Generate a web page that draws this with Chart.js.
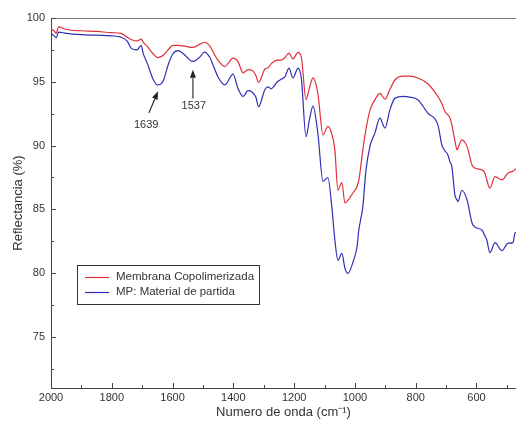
<!DOCTYPE html>
<html>
<head>
<meta charset="utf-8">
<script src="https://cdn.jsdelivr.net/npm/chart.js@4/dist/chart.umd.min.js"></script>
<style>
html,body{margin:0;padding:0;background:#fff;}
#c{display:block;}
</style>
</head>
<body>
<canvas id="c" width="516" height="421"></canvas>
<script>
// ---- Data ----
const wavenumbers = [2000,1990,1983,1975,1950,1900,1850,1800,1770,1750,1735,1717,1703,1697,1684,1664,1650,1640,1630,1615,1599,1582,1560,1540,1533,1510,1495,1477,1468,1451,1428,1401,1385,1368,1352,1339,1326,1317,1296,1286,1276,1255,1243,1230,1217,1204,1187,1176,1161,1150,1138,1122,1105,1089,1076,1066,1056,1043,1033,1023,1006,993,987,974,964,950,934,918,901,885,868,842,820,793,760,727,714,704,694,687,681,671,664,661,648,631,612,582,572,566,556,539,516,497,480,474,470];

const membranaCopolimerizada = [99.15,99.0,98.8,99.3,99.1,99.0,98.95,98.85,98.8,98.5,98.3,98.2,98.35,98.1,97.8,97.2,96.9,96.95,97.1,97.5,97.85,97.85,97.8,97.7,97.7,97.95,98.1,97.8,97.4,96.7,96.2,96.86,96.6,95.7,95.95,95.9,95.5,94.95,96.0,96.1,96.4,96.7,96.7,96.9,97.25,96.8,97.3,96.9,93.6,94.5,95.3,94.1,90.84,91.5,90.9,89.66,86.5,87.1,85.5,85.7,86.3,86.8,87.3,89.66,91.23,92.8,93.6,94.1,93.64,94.4,95.16,95.45,95.45,95.3,94.85,93.85,93.3,92.67,92.4,92.15,91.6,90.4,89.66,89.8,90.45,89.92,88.35,88.1,87.83,87.3,86.66,87.57,87.31,87.83,88.0,88.1,88.2];

const materialDePartida = [98.8,98.6,98.45,98.9,98.8,98.7,98.65,98.6,98.5,98.2,97.6,97.5,97.85,97.25,96.5,95.2,94.75,94.8,95.1,96.3,97.2,97.45,97.1,96.65,96.6,96.95,97.33,96.9,96.4,95.4,94.76,95.6,94.5,93.85,94.3,94.2,93.8,93.06,94.4,94.6,94.45,95.0,95.2,95.4,96.07,95.3,96.07,95.2,90.7,92.0,93.1,90.97,87.2,87.5,85.2,82.6,81.0,81.55,80.4,79.98,80.9,82.07,83.4,85.2,88.0,90.0,91.0,92.15,91.37,92.8,93.72,93.85,93.8,93.59,92.54,91.62,90.05,89.6,89.27,88.7,88.35,86.13,85.75,85.6,86.5,85.74,83.78,83.38,82.9,82.6,81.6,82.39,81.76,82.34,82.39,83.1,83.2];

const seriesLabels = ['Membrana Copolimerizada', 'MP: Material de partida'];
const xTicks = [2000,1800,1600,1400,1200,1000,800,600];
const yTicks = [75,80,85,90,95,100];
const peakLabels = ['1639', '1537'];
const peakPositions = [1639, 1537];

// ---- Styling ----
const FONT = "'Liberation Sans', Arial, Helvetica, sans-serif";
const RED = '#df2f3b';
const BLUE = '#2f2fb5';
const TXT = '#333333';

const toXY = (vals) => wavenumbers.map((w, i) => ({x: w, y: vals[i]}));

const decor = {
  id: 'decor',
  afterDraw(chart) {
    const {ctx, chartArea: a, scales: {x, y}} = chart;
    ctx.save();
    // top frame line
    ctx.strokeStyle = '#777';
    ctx.lineWidth = 1;
    ctx.beginPath();
    ctx.moveTo(a.left, a.top + 0.5);
    ctx.lineTo(a.right, a.top + 0.5);
    ctx.stroke();

    // inward ticks
    ctx.strokeStyle = '#444';
    ctx.beginPath();
    const xMinor = xTicks.map(v => v - 100).filter(v => v >= x.min && v <= x.max);
    const yMinor = yTicks.map(v => v - 2.5).filter(v => v >= y.min && v <= y.max);
    xTicks.forEach(v => { const p = Math.round(x.getPixelForValue(v)) + 0.5; ctx.moveTo(p, a.bottom); ctx.lineTo(p, a.bottom - 5); });
    xMinor.forEach(v => { const p = Math.round(x.getPixelForValue(v)) + 0.5; ctx.moveTo(p, a.bottom); ctx.lineTo(p, a.bottom - 3); });
    yTicks.forEach(v => { const p = Math.round(y.getPixelForValue(v)) + 0.5; ctx.moveTo(a.left, p); ctx.lineTo(a.left + 5, p); });
    yMinor.forEach(v => { const p = Math.round(y.getPixelForValue(v)) + 0.5; ctx.moveTo(a.left, p); ctx.lineTo(a.left + 3, p); });
    ctx.stroke();

    // peak annotations (arrows)
    const arrows = [
      {text: peakLabels[0], tail: [1678, 92.55], head: [peakPositions[0] + 9, 94.25], label: [1687, 91.6]},
      {text: peakLabels[1], tail: [peakPositions[1] - 4, 93.7], head: [peakPositions[1] - 4, 95.95], label: [peakPositions[1] - 7, 93.1]}
    ];
    ctx.lineWidth = 1.1;
    arrows.forEach(ar => {
      const tx = x.getPixelForValue(ar.tail[0]), ty = y.getPixelForValue(ar.tail[1]);
      const hx = x.getPixelForValue(ar.head[0]), hy = y.getPixelForValue(ar.head[1]);
      const ang = Math.atan2(hy - ty, hx - tx);
      const L = 8, W = 3;
      const bx = hx - L * Math.cos(ang), by = hy - L * Math.sin(ang);
      ctx.strokeStyle = '#222';
      ctx.fillStyle = '#222';
      ctx.beginPath();
      ctx.moveTo(tx, ty);
      ctx.lineTo(bx, by);
      ctx.stroke();
      ctx.beginPath();
      ctx.moveTo(hx, hy);
      ctx.lineTo(bx + W * Math.sin(ang), by - W * Math.cos(ang));
      ctx.lineTo(bx - W * Math.sin(ang), by + W * Math.cos(ang));
      ctx.closePath();
      ctx.fill();
      ctx.font = '11px ' + FONT;
      ctx.fillStyle = TXT;
      ctx.textAlign = 'center';
      ctx.textBaseline = 'middle';
      ctx.fillText(ar.text, x.getPixelForValue(ar.label[0]), y.getPixelForValue(ar.label[1]));
    });

    // legend box inside the plot
    const lx = a.left + 26, ly = a.top + 247, w = 182, h = 39;
    ctx.fillStyle = '#fff';
    ctx.fillRect(lx, ly, w, h);
    ctx.strokeStyle = '#333';
    ctx.lineWidth = 1;
    ctx.strokeRect(lx + 0.5, ly + 0.5, w, h);
    ctx.font = '11.5px ' + FONT;
    ctx.textAlign = 'left';
    ctx.textBaseline = 'middle';
    chart.data.datasets.forEach((ds, i) => {
      const yy = ly + 12 + i * 14.5;
      ctx.strokeStyle = ds.borderColor;
      ctx.lineWidth = 1.2;
      ctx.beginPath();
      ctx.moveTo(lx + 8, Math.round(yy) + 0.5);
      ctx.lineTo(lx + 32, Math.round(yy) + 0.5);
      ctx.stroke();
      ctx.fillStyle = TXT;
      ctx.fillText(ds.label, lx + 39, yy);
    });
    ctx.restore();
  }
};

new Chart(document.getElementById('c'), {
  type: 'line',
  data: {
    datasets: [
      {label: seriesLabels[0], data: toXY(membranaCopolimerizada), borderColor: RED, borderWidth: 1.2, pointRadius: 0, tension: 0.4, cubicInterpolationMode: 'monotone', fill: false},
      {label: seriesLabels[1], data: toXY(materialDePartida), borderColor: BLUE, borderWidth: 1.2, pointRadius: 0, tension: 0.4, cubicInterpolationMode: 'monotone', fill: false}
    ]
  },
  options: {
    responsive: false,
    animation: false,
    devicePixelRatio: 1,
    layout: {padding: {top: 18, right: 0, left: 0, bottom: 0}},
    plugins: {legend: {display: false}, tooltip: {enabled: false}},
    scales: {
      x: {
        type: 'linear', reverse: true, min: 470, max: 2000,
        afterBuildTicks: s => { s.ticks = xTicks.map(v => ({value: v})); },
        afterFit: s => { s.height = 33; },
        grid: {display: false, drawTicks: false},
        border: {display: true, color: '#444', width: 1},
        ticks: {color: TXT, font: {family: FONT, size: 11}, padding: 3, maxRotation: 0, autoSkip: false, callback: v => String(v)},
        title: {display: true, text: 'Numero de onda (cm⁻¹)', color: TXT, font: {family: FONT, size: 13}, padding: {top: 0, bottom: 1}}
      },
      y: {
        type: 'linear', min: 71, max: 100,
        afterBuildTicks: s => { s.ticks = yTicks.map(v => ({value: v})); },
        afterFit: s => { s.width = 51; },
        grid: {display: false, drawTicks: false},
        border: {display: true, color: '#444', width: 1},
        ticks: {color: TXT, font: {family: FONT, size: 11}, padding: 6, callback: v => String(v)},
        title: {display: true, text: 'Reflectancia (%)', color: TXT, font: {family: FONT, size: 13}, padding: {top: 11, bottom: 0}}
      }
    }
  },
  plugins: [decor]
});
</script>
</body>
</html>
